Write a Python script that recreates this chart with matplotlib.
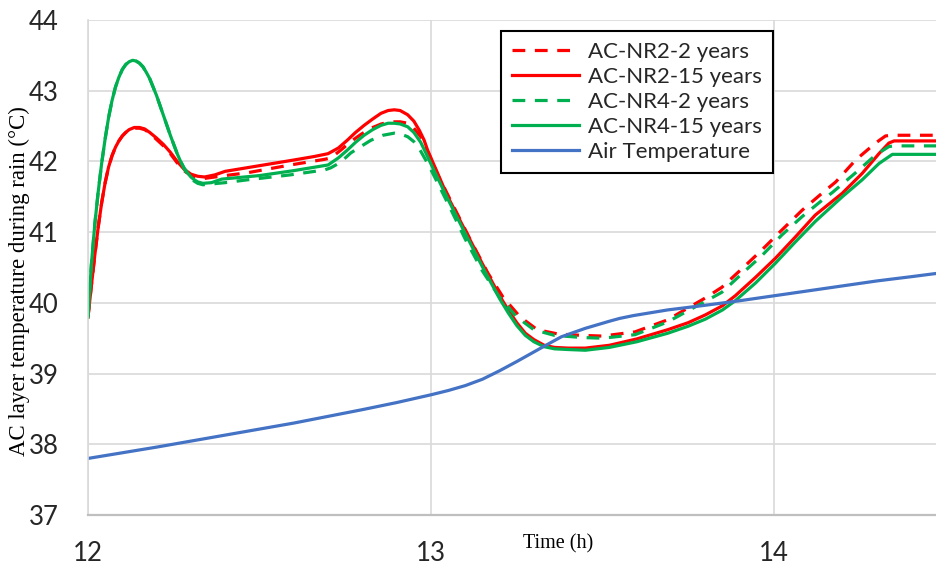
import matplotlib
matplotlib.use("Agg")
from matplotlib import pyplot as plt

# ---- data ----
time_nr2_2y = [12.00, 12.01, 12.02, 12.03, 12.04, 12.05, 12.06, 12.07, 12.08, 12.09,
               12.10, 12.11, 12.12, 12.135, 12.15, 12.165, 12.18, 12.20, 12.22, 12.24,
               12.26, 12.28, 12.30, 12.32, 12.34, 12.40, 12.465, 12.59, 12.69, 12.708,
               12.737, 12.766, 12.795, 12.825, 12.855, 12.883, 12.91, 12.932, 12.95, 12.97,
               12.995, 13.02, 13.06, 13.117, 13.166, 13.21, 13.26, 13.31, 13.37, 13.44,
               13.50, 13.595, 13.69, 13.75, 13.80, 13.848, 13.906, 13.965, 14.023, 14.082,
               14.14, 14.18, 14.238, 14.296, 14.325, 14.34, 14.48]
temp_nr2_2y = [39.80, 40.25, 40.68, 41.08, 41.42, 41.70, 41.92, 42.08, 42.20, 42.29,
               42.36, 42.41, 42.45, 42.47, 42.47, 42.45, 42.40, 42.31, 42.22, 42.11,
               41.98, 41.87, 41.80, 41.77, 41.76, 41.80, 41.84, 41.95, 42.03, 42.05,
               42.16, 42.28, 42.38, 42.47, 42.53, 42.56, 42.56, 42.54, 42.47, 42.35,
               42.09, 41.81, 41.42, 40.87, 40.42, 40.08, 39.80, 39.62, 39.56, 39.54,
               39.53, 39.59, 39.76, 39.93, 40.07, 40.22, 40.48, 40.75, 41.03, 41.31,
               41.55, 41.71, 42.02, 42.26, 42.36, 42.37, 42.37]

time_nr2_15y = [12.00, 12.01, 12.02, 12.03, 12.04, 12.05, 12.06, 12.07, 12.08, 12.09,
                12.10, 12.11, 12.12, 12.135, 12.15, 12.165, 12.18, 12.20, 12.22, 12.24,
                12.26, 12.28, 12.30, 12.32, 12.34, 12.37, 12.40, 12.50, 12.60, 12.66,
                12.70, 12.73, 12.756, 12.78, 12.805, 12.83, 12.854, 12.875, 12.893, 12.91,
                12.932, 12.95, 12.966, 12.98, 12.99, 13.015, 13.049, 13.10, 13.15, 13.20,
                13.225, 13.25, 13.275, 13.30, 13.33, 13.36, 13.40, 13.45, 13.52, 13.60,
                13.69, 13.75, 13.80, 13.85, 13.887, 13.946, 14.004, 14.062, 14.12, 14.199,
                14.257, 14.306, 14.335, 14.35, 14.48]
temp_nr2_15y = [39.80, 40.25, 40.68, 41.08, 41.42, 41.70, 41.92, 42.08, 42.20, 42.29,
                42.36, 42.41, 42.45, 42.48, 42.48, 42.46, 42.41, 42.33, 42.24, 42.13,
                42.00, 41.89, 41.82, 41.79, 41.78, 41.81, 41.86, 41.94, 42.02, 42.07,
                42.11, 42.19, 42.30, 42.41, 42.51, 42.60, 42.68, 42.72, 42.73, 42.72,
                42.66, 42.57, 42.44, 42.30, 42.16, 41.88, 41.50, 41.02, 40.55, 40.10,
                39.90, 39.72, 39.57, 39.48, 39.40, 39.37, 39.36, 39.36, 39.40, 39.49,
                39.62, 39.72, 39.83, 39.96, 40.10, 40.36, 40.63, 40.93, 41.24, 41.55,
                41.83, 42.11, 42.26, 42.29, 42.29]

time_nr4_2y = [12.00, 12.01, 12.02, 12.03, 12.04, 12.05, 12.06, 12.07, 12.08, 12.09,
               12.10, 12.11, 12.12, 12.13, 12.14, 12.15, 12.16, 12.17, 12.18, 12.19,
               12.20, 12.21, 12.22, 12.23, 12.24, 12.25, 12.26, 12.27, 12.28, 12.29,
               12.30, 12.31, 12.32, 12.335, 12.40, 12.465, 12.59, 12.69, 12.708, 12.737,
               12.766, 12.795, 12.825, 12.86, 12.893, 12.91, 12.932, 12.95, 12.966, 12.995,
               13.02, 13.06, 13.10, 13.15, 13.20, 13.25, 13.30, 13.36, 13.44, 13.50,
               13.595, 13.69, 13.75, 13.80, 13.848, 13.906, 13.965, 14.023, 14.082, 14.14,
               14.17, 14.238, 14.296, 14.335, 14.35, 14.48]
temp_nr4_2y = [39.80, 40.55, 41.12, 41.58, 41.98, 42.32, 42.62, 42.86, 43.05, 43.19,
               43.30, 43.37, 43.41, 43.43, 43.42, 43.39, 43.34, 43.26, 43.17, 43.05,
               42.93, 42.79, 42.65, 42.51, 42.37, 42.24, 42.11, 42.00, 41.90, 41.82,
               41.76, 41.72, 41.69, 41.67, 41.70, 41.74, 41.81, 41.88, 41.91, 41.99,
               42.12, 42.21, 42.30, 42.37, 42.40, 42.39, 42.35, 42.28, 42.18, 41.93,
               41.69, 41.30, 40.90, 40.45, 40.08, 39.80, 39.62, 39.54, 39.51, 39.50,
               39.55, 39.73, 39.89, 40.02, 40.15, 40.41, 40.67, 40.96, 41.22, 41.45,
               41.56, 41.84, 42.09, 42.21, 42.22, 42.22]

time_nr4_15y = [12.00, 12.01, 12.02, 12.03, 12.04, 12.05, 12.06, 12.07, 12.08, 12.09,
                12.10, 12.11, 12.12, 12.13, 12.14, 12.15, 12.16, 12.17, 12.18, 12.19,
                12.20, 12.21, 12.22, 12.23, 12.24, 12.25, 12.26, 12.27, 12.28, 12.29,
                12.30, 12.31, 12.32, 12.335, 12.36, 12.39, 12.50, 12.60, 12.70, 12.73,
                12.756, 12.78, 12.805, 12.83, 12.854, 12.875, 12.893, 12.91, 12.932, 12.95,
                12.97, 12.985, 13.01, 13.05, 13.10, 13.15, 13.20, 13.225, 13.25, 13.275,
                13.30, 13.33, 13.36, 13.40, 13.45, 13.52, 13.60, 13.69, 13.75, 13.80,
                13.85, 13.887, 13.946, 14.004, 14.062, 14.12, 14.199, 14.257, 14.306, 14.345,
                14.48]
temp_nr4_15y = [39.80, 40.55, 41.12, 41.58, 41.98, 42.32, 42.62, 42.86, 43.05, 43.19,
                43.30, 43.37, 43.41, 43.43, 43.42, 43.39, 43.34, 43.26, 43.17, 43.05,
                42.93, 42.79, 42.65, 42.51, 42.37, 42.24, 42.11, 42.00, 41.91, 41.84,
                41.78, 41.74, 41.71, 41.69, 41.70, 41.75, 41.80, 41.87, 41.95, 42.05,
                42.16, 42.27, 42.37, 42.45, 42.51, 42.54, 42.54, 42.53, 42.49, 42.41,
                42.27, 42.12, 41.86, 41.46, 40.98, 40.51, 40.06, 39.86, 39.68, 39.54,
                39.45, 39.38, 39.35, 39.34, 39.33, 39.37, 39.45, 39.57, 39.67, 39.77,
                39.90, 40.03, 40.28, 40.56, 40.86, 41.15, 41.50, 41.74, 41.97, 42.10,
                42.10]

time_air = [12.0, 12.2, 12.4, 12.6, 12.8, 12.9, 13.0, 13.05, 13.10, 13.15, 13.20, 13.25,
            13.32, 13.38, 13.45, 13.52, 13.55, 13.59, 13.64, 13.69, 13.79, 13.9, 14.0, 14.1,
            14.2, 14.3, 14.4, 14.48]
temp_air = [37.80, 37.96, 38.13, 38.30, 38.49, 38.59, 38.70, 38.76, 38.83, 38.92, 39.04, 39.17,
            39.36, 39.52, 39.64, 39.74, 39.78, 39.82, 39.86, 39.90, 39.96, 40.03, 40.10, 40.17,
            40.24, 40.31, 40.37, 40.42]

y_ticks = [37, 38, 39, 40, 41, 42, 43, 44]
x_ticks = [12, 13, 14]

RED = "#FF0000"
GREEN = "#00B050"
BLUE = "#4472C4"
LW = 2.3

sans = ["Lato", "DejaVu Sans"]
serif = ["Liberation Serif", "DejaVu Serif"]

fig = plt.figure(figsize=(9.37, 5.66), dpi=100)
ax = fig.add_axes([88 / 937, 1 - 515 / 566, 1 - 88 / 937, (515 - 20) / 566])

ax.plot(time_nr2_2y, temp_nr2_2y, color=RED, lw=LW, dashes=(4, 3), label="AC-NR2-2 years")
ax.plot(time_nr2_15y, temp_nr2_15y, color=RED, lw=LW, label="AC-NR2-15 years")
ax.plot(time_nr4_2y, temp_nr4_2y, color=GREEN, lw=LW, dashes=(4, 3), label="AC-NR4-2 years")
ax.plot(time_nr4_15y, temp_nr4_15y, color=GREEN, lw=LW, label="AC-NR4-15 years")
ax.plot(time_air, temp_air, color=BLUE, lw=LW, label="Air Temperature")

ax.set_xlim(12, 12 + (937 - 88) / 343)
ax.set_ylim(37, 44)
ax.set_xticks(x_ticks)
ax.set_yticks(y_ticks)
ax.grid(True, color="#D9D9D9", lw=1.2)
ax.set_axisbelow(True)
for s in ["top", "right"]:
    ax.spines[s].set_visible(False)
ax.spines["left"].set_color("#D9D9D9")
ax.spines["left"].set_linewidth(1.2)
ax.spines["bottom"].set_color("#BFBFBF")
ax.spines["bottom"].set_linewidth(1.6)
ax.tick_params(axis="y", length=0, pad=21, labelsize=18.5)
ax.tick_params(axis="x", length=0, pad=19, labelsize=18.5)
for lab in ax.get_xticklabels() + ax.get_yticklabels():
    lab.set_family(sans)
    lab.set_color("#262626")

fig.text(558 / 937, 1 - 544 / 566, "Time (h)", family=serif, fontsize=14.5,
         ha="center", va="center")
fig.text(19 / 937, 1 - 281 / 566, "AC layer temperature during rain (°C)", family=serif,
         fontsize=16.5, rotation=90, ha="center", va="center")

leg = ax.legend(loc="upper left", bbox_to_anchor=(501 / 937, 1 - 31 / 566),
                bbox_transform=fig.transFigure, borderaxespad=0, fancybox=False,
                edgecolor="black", framealpha=1, handlelength=3.0, handletextpad=0.4,
                borderpad=0.5, labelspacing=0.22, prop={"family": sans, "size": 16})
leg.get_frame().set_linewidth(1.5)
for t in leg.get_texts():
    t.set_color("#262626")

fig.savefig("out.png", dpi=100)
